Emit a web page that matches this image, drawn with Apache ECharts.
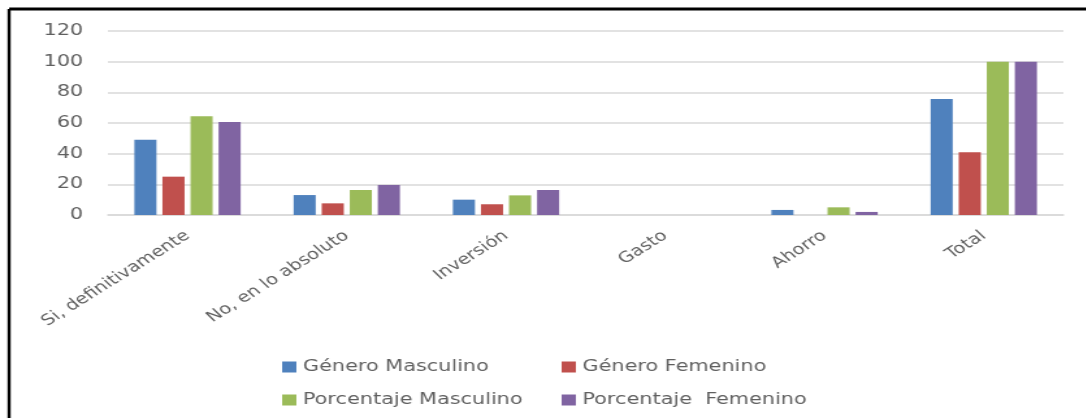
<!DOCTYPE html>
<html>
<head>
<meta charset="utf-8">
<script src="https://cdn.jsdelivr.net/npm/echarts@6/dist/echarts.min.js"></script>
<style>
  html, body { margin: 0; padding: 0; background: #fff; overflow: hidden; }
  /* the reference image is stretched sideways, so the chart is drawn narrower and widened */
  #chart { width: 835px; height: 418px; transform: scaleX(1.3); transform-origin: 0 0; }
</style>
</head>
<body>
<div id="chart"></div>
<script>
const categories = ['Si, definitivamente', 'No, en lo absoluto', 'Inversión', 'Gasto', 'Ahorro', 'Total']
const generoMasculino = [49, 13, 10, 0, 3.3, 75.7]
const generoFemenino = [25, 7.6, 7, 0, 0, 41]
const porcentajeMasculino = [64.4, 16.3, 12.8, 0, 5, 100]
const porcentajeFemenino = [60.7, 19.6, 16.3, 0, 2, 100]
const yTicks = { min: 0, max: 120, interval: 20 }

const labelColor = '#5f5f5f'
const fontFamily = 'DejaVu Sans'

const chart = echarts.init(document.getElementById('chart'))

function bar (name, data, color) {
  return {
    name: name,
    type: 'bar',
    data: data,
    barWidth: 17,
    barGap: '27%',
    itemStyle: { color: color },
    animation: false
  }
}

function legendCol (left, names) {
  return {
    orient: 'vertical',
    left: left,
    top: 354,
    itemWidth: 11,
    itemHeight: 11,
    itemGap: 17,
    icon: 'rect',
    textStyle: { color: labelColor, fontSize: 16, fontFamily: fontFamily },
    data: names
  }
}

chart.setOption({
  animation: false,
  textStyle: { fontFamily: fontFamily },
  grid: { left: 83, right: 17, top: 31, bottom: 203 },
  legend: [
    legendCol(212, ['Género Masculino', 'Porcentaje Masculino']),
    legendCol(427, ['Género Femenino', 'Porcentaje  Femenino'])
  ],
  xAxis: {
    type: 'category',
    data: categories,
    axisLine: { lineStyle: { color: '#d9d9d9', width: 1.5 } },
    axisTick: { show: false },
    axisLabel: {
      interval: 0,
      rotate: 39,
      margin: 19,
      color: labelColor,
      fontSize: 15,
      fontFamily: fontFamily
    }
  },
  yAxis: {
    type: 'value',
    min: yTicks.min,
    max: yTicks.max,
    interval: yTicks.interval,
    axisLine: { show: false },
    axisTick: { show: false },
    axisLabel: { margin: 19, color: labelColor, fontSize: 16, fontFamily: fontFamily },
    splitLine: { lineStyle: { color: '#d9d9d9', width: 1.5 } }
  },
  graphic: [{
    type: 'line',
    shape: { x1: 7, y1: 9, x2: 835, y2: 9 },
    style: { stroke: '#000', lineWidth: 3 }
  }, {
    type: 'line',
    shape: { x1: 7, y1: 9, x2: 7, y2: 418 },
    style: { stroke: '#000', lineWidth: 2.4 }
  }],
  series: [
    bar('Género Masculino', generoMasculino, '#4f81bd'),
    bar('Género Femenino', generoFemenino, '#c0504d'),
    bar('Porcentaje Masculino', porcentajeMasculino, '#9bbb59'),
    bar('Porcentaje  Femenino', porcentajeFemenino, '#8064a2')
  ]
})
</script>
</body>
</html>
